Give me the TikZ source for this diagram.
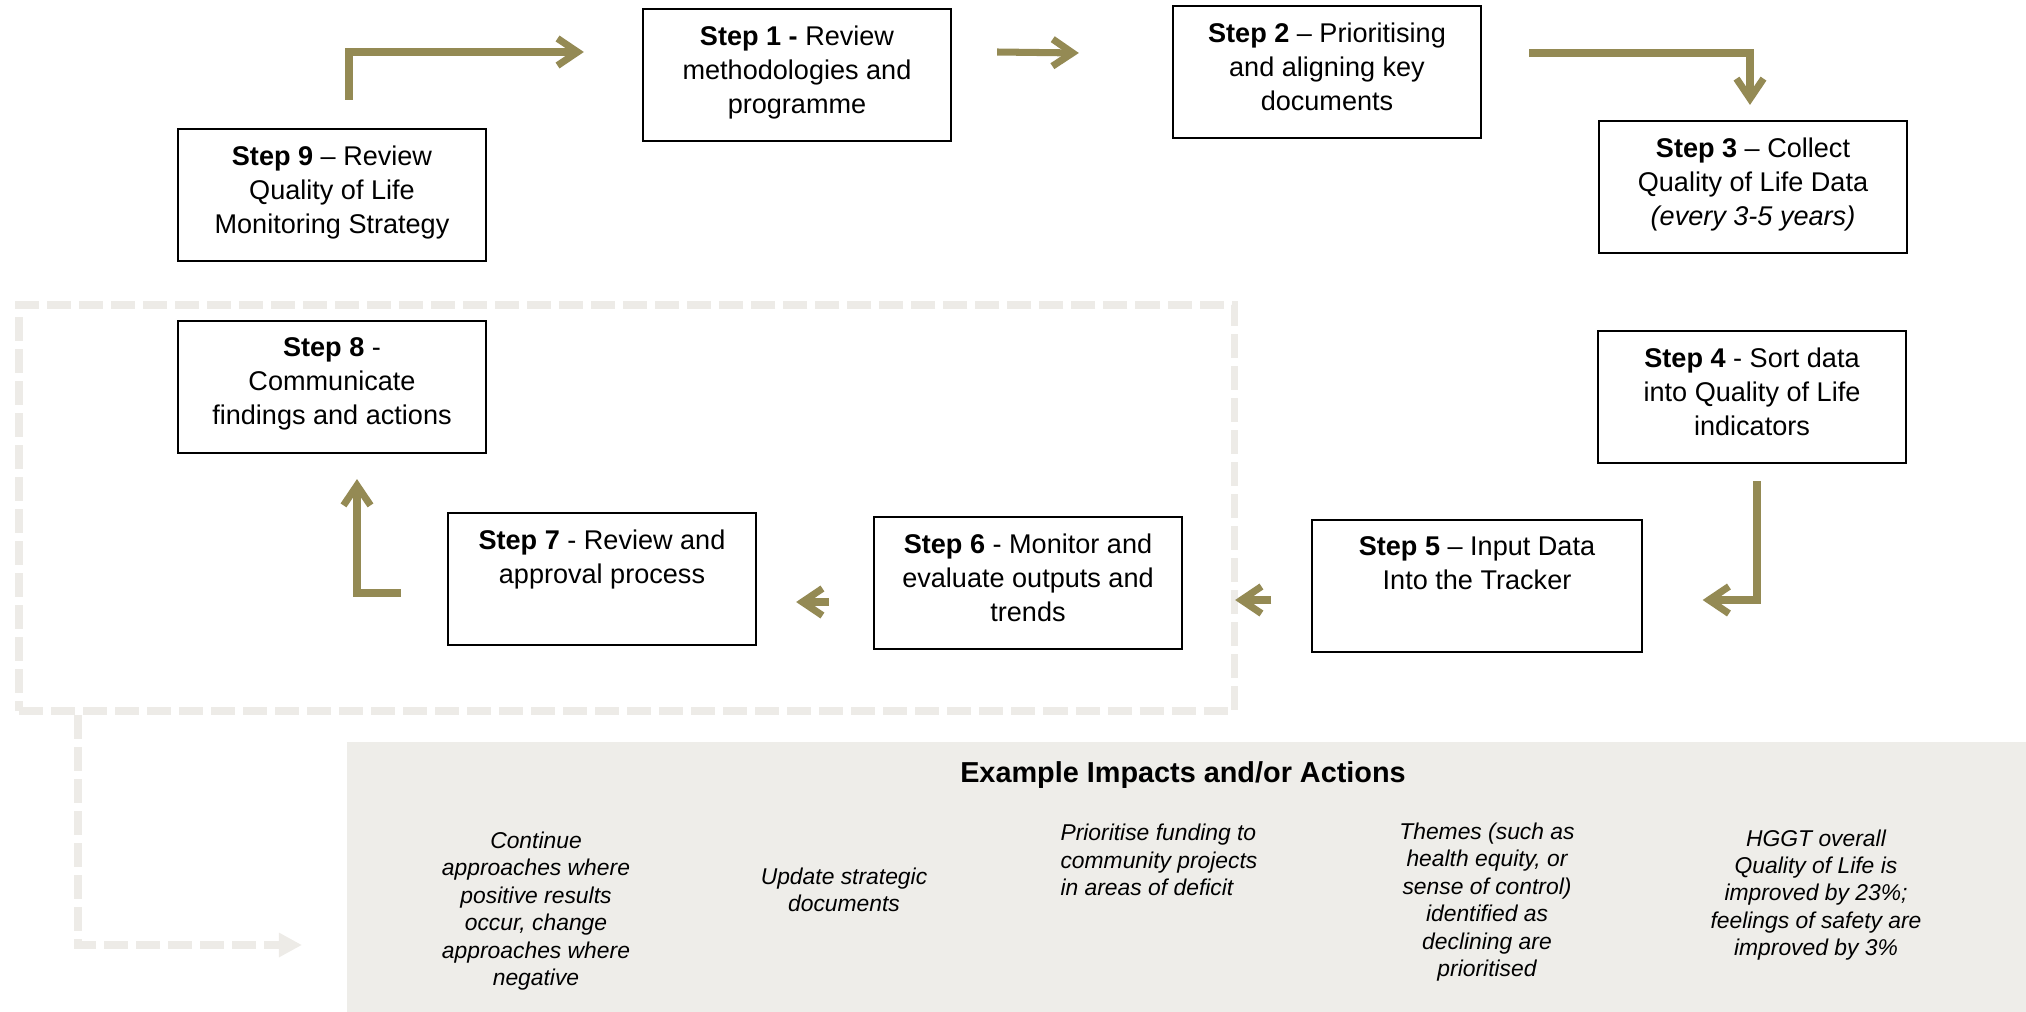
\documentclass[tikz,border=0pt]{standalone}
\usepackage{fontspec}
\setmainfont{Liberation Sans}
\usepackage{tikz}
\usetikzlibrary{arrows.meta,calc,positioning}
\definecolor{arrowgold}{HTML}{948A54}
\definecolor{panelgrey}{HTML}{EEEDE9}
\definecolor{dashgrey}{HTML}{EDEBE7}

\begin{document}
\begin{tikzpicture}[x=0.01cm,y=-0.01cm,
	stepbox/.style={draw, line width=0.6pt, inner sep=0pt,
		execute at begin node={\begin{minipage}[t][1.32cm][t]{#1}\centering\fontsize{7.7}{9.6}\selectfont\vspace*{0.17cm}},
		execute at end node={\end{minipage}}},
	stepbox/.default=3.08cm,
	flow/.style={draw=arrowgold, line width=2pt, -{Straight Barb[length=0.2cm,width=0.27cm]}},
	impact/.style={align=center, inner sep=0pt, font=\fontsize{6.5}{7.8}\selectfont\itshape}]
	\useasboundingbox (0,0) rectangle (2026,1012);
	% Hintergrund
		\node[fill=panelgrey, minimum width=16.8cm, minimum height=2.71cm, inner sep=0pt, anchor=north west] (panel) at (346,741) {};
		\node[draw=dashgrey, line width=2.2pt, dash pattern=on 0.24cm off 0.08cm, minimum width=12.15cm, minimum height=4.06cm, inner sep=0pt, anchor=north west] (group) at (15,301) {};
		\coordinate (dend) at (302,945);
	% Schritte
		\node[stepbox] (1) at (797,75) {\textbf{Step 1 -} Review\\methodologies and\\programme};
		\node[stepbox] (2) at (1327,72) {\textbf{Step 2} -- Prioritising\\and aligning key\\documents};
		\node[stepbox] (3) at (1753,187) {\textbf{Step 3} -- Collect\\Quality of Life Data\\\textit{(every 3-5 years)}};
		\node[stepbox] (4) at (1752,397) {\textbf{Step 4} - Sort data\\into Quality of Life\\indicators};
		\node[stepbox=3.29cm] (5) at (1477,586) {\textbf{Step 5} -- Input Data\\Into the Tracker};
		\node[stepbox] (6) at (1028,583) {\textbf{Step 6} - Monitor and\\evaluate outputs and\\trends};
		\node[stepbox] (7) at (602,579) {\textbf{Step 7} - Review and\\approval process};
		\node[stepbox] (8) at (332,387) {\textbf{Step 8} -\\Communicate\\findings and actions};
		\node[stepbox] (9) at (332,195) {\textbf{Step 9} -- Review\\Quality of Life\\Monitoring Strategy};
	% Pfeile
		\draw[flow] ($(9.north)+(17,-28)$) |- ($(1.west)+(-58,-23)$);
		\draw[flow] ($(1.east)+(45,-23)$) -- ($(2.west)+(-93,-19)$);
		\draw[flow] ($(2.east)+(47,-19)$) -| ($(3.north)+(-3,-15)$);
		\draw[flow] ($(4.south)+(5,17)$) |- ($(5.east)+(60,14)$);
		\draw[flow] ($(5.west)+(-40,14)$) -- ($(6.east)+(52,17)$);
		\draw[flow] ($(6.west)+(-44,19)$) -- ($(7.east)+(39,23)$);
		\draw[flow] ($(7.west)+(-46,14)$) -| ($(8.south)+(25,25)$);
		\draw[dashgrey, line width=2.2pt, dash pattern=on 0.24cm off 0.08cm, -{Triangle[length=0.23cm,width=0.23cm]}] ($(group.south west)+(63,0)$) |- (dend);
	% Beispiele
		\node[font=\fontsize{8.2}{10}\selectfont\bfseries] (title) at (1183,775) {Example Impacts and/or Actions};
		\node[impact] (c1) at (536,911) {Continue\\approaches where\\positive results\\occur, change\\approaches where\\negative};
		\node[impact] (c2) at (844,890) {Update strategic\\documents};
		\node[impact, align=left] (c3) at (1159,860) {Prioritise funding to\\community projects\\in areas of deficit};
		\node[impact] (c4) at (1487,902) {Themes (such as\\health equity, or\\sense of control)\\identified as\\declining are\\prioritised};
		\node[impact] (c5) at (1816,895) {HGGT overall\\Quality of Life is\\improved by 23\%;\\feelings of safety are\\improved by 3\%};
\end{tikzpicture}
\end{document}
